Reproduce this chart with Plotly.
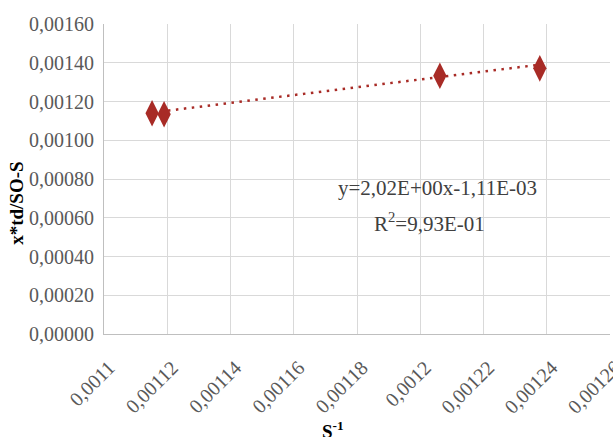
import plotly.graph_objects as go
import numpy as np

# Data
s_inv = [0.0011152, 0.0011190, 0.0012062, 0.0012378]
y_vals = [0.001139, 0.001134, 0.001333, 0.001371]

# Trendline coefficients (as shown in the chart label)
slope = 2.02
intercept = -1.11e-3

x_ticks = [0.0011, 0.00112, 0.00114, 0.00116, 0.00118, 0.0012, 0.00122, 0.00124, 0.00126]
x_ticktext = ["0,0011", "0,00112", "0,00114", "0,00116", "0,00118", "0,0012", "0,00122", "0,00124", "0,00126"]
y_ticks = [0, 0.0002, 0.0004, 0.0006, 0.0008, 0.0010, 0.0012, 0.0014, 0.0016]
y_ticktext = ["0,00000", "0,00020", "0,00040", "0,00060", "0,00080", "0,00100", "0,00120", "0,00140", "0,00160"]

eq_text = "y=2,02E+00x-1,11E-03"
r2_text = "R<sup>2</sup>=9,93E-01"

color = "#a82b26"
font_family = "Liberation Serif"

tx = np.array([min(s_inv), max(s_inv)])
ty = slope * tx + intercept

fig = go.Figure()
fig.add_trace(go.Scatter(
    x=tx, y=ty, mode="lines",
    line=dict(color=color, width=2.5, dash="2.5px,5.5px"),
    showlegend=False, hoverinfo="skip"))
fig.add_trace(go.Scatter(
    x=s_inv, y=y_vals, mode="markers",
    marker=dict(symbol="diamond-tall", size=19, color=color, line=dict(width=0)),
    showlegend=False))

fig.update_layout(
    width=613, height=437,
    margin=dict(l=104, r=3, t=24, b=103, autoexpand=False),
    paper_bgcolor="white", plot_bgcolor="white",
    font=dict(family=font_family, color="#595959", size=20),
    xaxis=dict(range=[0.0011, 0.00126], tickvals=x_ticks, ticktext=x_ticktext,
               tickangle=-45, showgrid=True, gridcolor="#d9d9d9", gridwidth=1,
               showline=True, linecolor="#bfbfbf", linewidth=1, zeroline=False,
               ticks="", automargin=False, ticklabeloverflow="allow",
               ticklabelstandoff=13, ticklabelshift=5,
               tickfont=dict(size=20, color="#595959", family=font_family)),
    yaxis=dict(range=[0, 0.0016], tickvals=y_ticks, ticktext=y_ticktext,
               showgrid=True, gridcolor="#d9d9d9", gridwidth=1,
               showline=True, linecolor="#bfbfbf", linewidth=1, zeroline=False,
               ticks="", automargin=False, ticklabelstandoff=5,
               tickfont=dict(size=20, color="#595959", family=font_family)),
    annotations=[
        dict(text="<b>x*td/SO-S</b>", xref="paper", yref="paper", x=-0.172, y=0.423,
             xanchor="center", yanchor="middle", textangle=-90, showarrow=False,
             font=dict(size=19, color="black", family=font_family)),
        dict(text="<b>S<sup>-1</sup></b>", xref="paper", yref="paper", x=0.4526, y=-0.265,
             xanchor="center", yanchor="top", showarrow=False,
             font=dict(size=19, color="black", family=font_family)),
        dict(text=eq_text, xref="x", yref="y", x=0.0012056, y=0.000754,
             xanchor="center", yanchor="middle", showarrow=False,
             font=dict(size=21, color="#404040", family=font_family)),
        dict(text=r2_text, xref="x", yref="y", x=0.0012028, y=0.000573,
             xanchor="center", yanchor="middle", showarrow=False,
             font=dict(size=21, color="#404040", family=font_family)),
    ],
)

fig.write_html("out.html", config={"displayModeBar": False},
               post_script="document.body.style.margin='0px';document.body.style.overflow='hidden';")
